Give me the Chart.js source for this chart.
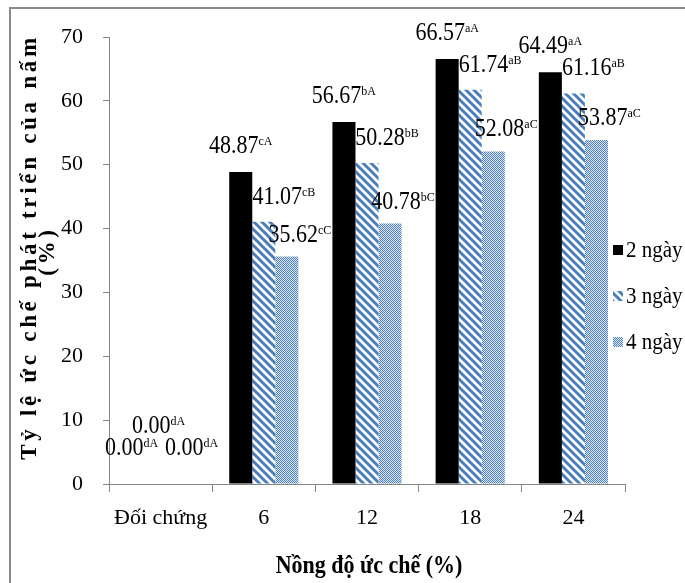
<!DOCTYPE html>
<html lang="vi">
<head>
    <meta charset="UTF-8">
    <title>Tỷ lệ ức chế phát triển của nấm</title>
    <script src="https://cdn.jsdelivr.net/npm/chart.js"></script>
    <style>
        html, body { margin: 0; padding: 0; background: #fff; }
        #inhibitionChart { display: block; }
    </style>
</head>
<body>
    <canvas id="inhibitionChart" width="685" height="583"></canvas>
    <script>
        // concentrations on the x axis
        const categories = ['Đối chứng', '6', '12', '18', '24'];
        const seriesNames = ['2 ngày', '3 ngày', '4 ngày'];

        // inhibition rate (%) per day
        const day2 = [0.00, 48.87, 56.67, 66.57, 64.49];
        const day3 = [0.00, 41.07, 50.28, 61.74, 61.16];
        const day4 = [0.00, 35.62, 40.78, 52.08, 53.87];

        // significance letters shown as superscripts
        const day2Letters = ['dA', 'cA', 'bA', 'aA', 'aA'];
        const day3Letters = ['dA', 'cB', 'bB', 'aB', 'aB'];
        const day4Letters = ['dA', 'cC', 'bC', 'aC', 'aC'];

        const yMin = 0, yMax = 70, yStep = 10;

        const FONT = "'Liberation Serif', 'Times New Roman', serif";
        const BLUE = '#4a7ebb';
        const AXIS = '#868686';
        const STRETCH = 1.12; // text is a bit taller than plain Times

        // diagonal stripes ( \\\ ) for 3 ngày
        function hatchPattern(ctx) {
            const c = document.createElement('canvas');
            c.width = 8; c.height = 8;
            const p = c.getContext('2d');
            p.fillStyle = '#fff';
            p.fillRect(0, 0, 8, 8);
            p.strokeStyle = BLUE;
            p.lineWidth = 3;
            p.beginPath();
            p.moveTo(-1, -1); p.lineTo(9, 9);
            p.moveTo(7, -1); p.lineTo(9, 1);
            p.moveTo(-1, 7); p.lineTo(1, 9);
            p.stroke();
            return ctx.createPattern(c, 'repeat');
        }

        // fine checker for 4 ngày
        function dotPattern(ctx) {
            const c = document.createElement('canvas');
            c.width = 2; c.height = 2;
            const p = c.getContext('2d');
            p.fillStyle = '#dce6f2';
            p.fillRect(0, 0, 2, 2);
            p.fillStyle = '#4f81bd';
            p.fillRect(0, 0, 1, 1);
            p.fillRect(1, 1, 1, 1);
            return ctx.createPattern(c, 'repeat');
        }

        function tallText(c, text, x, y) {
            c.save();
            c.translate(x, y);
            c.scale(1, STRETCH);
            c.fillText(text, 0, 0);
            c.restore();
        }

        const canvas = document.getElementById('inhibitionChart');
        const ctx = canvas.getContext('2d');

        const fills = ['#000000', hatchPattern(ctx), dotPattern(ctx)];
        const letters = [day2Letters, day3Letters, day4Letters];

        // where each value label sits relative to the top of its bar
        const labelShift = [
            { dx: 0, dy: 19, zeroDx: -6, zeroDy: 29 },
            { dx: 20, dy: 18, zeroDx: -2, zeroDy: 51 },
            { dx: 13, dy: 15, zeroDx: 8, zeroDy: 29 }
        ];

        const valueLabels = {
            id: 'valueLabels',
            afterDatasetsDraw(chart) {
                const c = chart.ctx;
                c.save();
                c.fillStyle = '#000';
                c.textBaseline = 'alphabetic';
                c.textAlign = 'left';
                chart.data.datasets.forEach((ds, di) => {
                    const meta = chart.getDatasetMeta(di);
                    const s = labelShift[di];
                    meta.data.forEach((bar, i) => {
                        const v = ds.data[i];
                        const main = v.toFixed(2);
                        const sup = letters[di][i];
                        c.font = '22px ' + FONT;
                        const wMain = c.measureText(main).width;
                        c.font = '12px ' + FONT;
                        const wSup = c.measureText(sup).width;
                        const dx = v === 0 ? s.zeroDx : s.dx;
                        const dy = v === 0 ? s.zeroDy : s.dy;
                        const x0 = bar.x + dx - (wMain + wSup) / 2;
                        const base = bar.y - dy;
                        c.font = '22px ' + FONT;
                        tallText(c, main, x0, base);
                        c.font = '12px ' + FONT;
                        tallText(c, sup, x0 + wMain, base - 8);
                    });
                });
                c.restore();
            }
        };

        const decorations = {
            id: 'decorations',
            beforeDraw(chart) {
                const c = chart.ctx;
                c.save();
                c.fillStyle = '#fff';
                c.fillRect(0, 0, chart.width, chart.height);
                c.strokeStyle = '#8c8c8c';
                c.lineWidth = 2;
                c.strokeRect(10, 8, chart.width + 20, chart.height + 20);
                c.restore();
            },
            afterDraw(chart) {
                const c = chart.ctx;
                const area = chart.chartArea;
                c.save();
                c.fillStyle = '#000';

                // x axis title
                c.font = 'bold 22px ' + FONT;
                c.textAlign = 'center';
                c.textBaseline = 'alphabetic';
                tallText(c, 'Nồng độ ức chế (%)', (area.left + area.right) / 2 + 2, 573);

                // y axis title, two lines
                c.save();
                c.translate(36, 247);
                c.rotate(-Math.PI / 2);
                c.font = 'bold 23px ' + FONT;
                if ('letterSpacing' in c) c.letterSpacing = '3.7px';
                c.textAlign = 'center';
                c.fillText('Tỷ lệ ức chế phát triển của nấm', 0, 0);
                c.fillText('(%)', -4, 18);
                c.restore();

                // legend
                c.font = '21px ' + FONT;
                c.textAlign = 'left';
                c.textBaseline = 'middle';
                const rows = [250, 296, 342];
                chart.data.datasets.forEach((ds, di) => {
                    c.fillStyle = ds.backgroundColor;
                    c.fillRect(613, rows[di] - 5, 10, 10);
                    c.fillStyle = '#000';
                    tallText(c, ds.label, 626, rows[di] + 1);
                });
                c.restore();
            }
        };

        new Chart(ctx, {
            type: 'bar',
            data: {
                labels: categories,
                datasets: [
                    { label: seriesNames[0], data: day2, backgroundColor: fills[0], borderWidth: 0 },
                    { label: seriesNames[1], data: day3, backgroundColor: fills[1], borderWidth: 0 },
                    { label: seriesNames[2], data: day4, backgroundColor: fills[2], borderWidth: 0 }
                ]
            },
            options: {
                responsive: false,
                animation: false,
                devicePixelRatio: 1,
                categoryPercentage: 0.67,
                barPercentage: 1.0,
                layout: { padding: { top: 37, left: 0, right: 60, bottom: 0 } },
                scales: {
                    x: {
                        afterFit(scale) { scale.height = 99; },
                        grid: {
                            drawOnChartArea: false,
                            drawTicks: true,
                            tickLength: 8,
                            color: AXIS,
                            offset: true
                        },
                        border: { display: true, color: AXIS, width: 1 },
                        ticks: {
                            color: '#000',
                            padding: 13,
                            font: { family: FONT, size: 22 }
                        }
                    },
                    y: {
                        min: yMin,
                        max: yMax,
                        afterFit(scale) { scale.width = 109; },
                        grid: {
                            drawOnChartArea: false,
                            drawTicks: true,
                            tickLength: 6,
                            color: AXIS
                        },
                        border: { display: true, color: AXIS, width: 1 },
                        ticks: {
                            stepSize: yStep,
                            color: '#000',
                            padding: 20,
                            font: { family: FONT, size: 22 }
                        }
                    }
                },
                plugins: {
                    legend: { display: false },
                    tooltip: { enabled: false },
                    title: { display: false }
                }
            },
            plugins: [decorations, valueLabels]
        });
    </script>
</body>
</html>
